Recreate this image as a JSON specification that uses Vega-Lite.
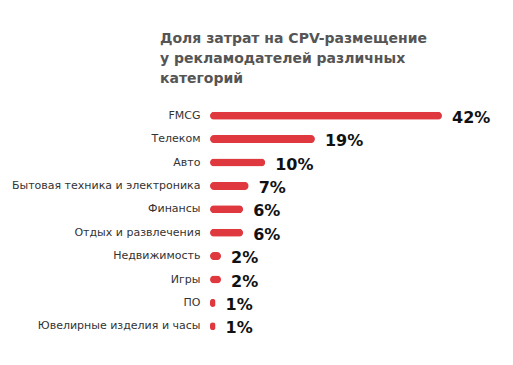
{
  "$schema": "https://vega.github.io/schema/vega-lite/v6.json",
  "autosize": {"type": "none"},
  "width": 232,
  "height": 234,
  "padding": {"left": 210, "top": 104, "right": 71, "bottom": 27},
  "background": "white",
  "title": {
    "text": ["Доля затрат на CPV-размещение", "у рекламодателей различных", "категорий"],
    "anchor": "start",
    "frame": "group",
    "dx": -50,
    "offset": 18,
    "font": "DejaVu Sans",
    "fontSize": 14,
    "fontWeight": "bold",
    "color": "#555555",
    "lineHeight": 20
  },
  "data": {
    "values": [
      {"category": "FMCG", "value": 0.42},
      {"category": "Телеком", "value": 0.19},
      {"category": "Авто", "value": 0.10},
      {"category": "Бытовая техника и электроника", "value": 0.07},
      {"category": "Финансы", "value": 0.06},
      {"category": "Отдых и развлечения", "value": 0.06},
      {"category": "Недвижимость", "value": 0.02},
      {"category": "Игры", "value": 0.02},
      {"category": "ПО", "value": 0.01},
      {"category": "Ювелирные изделия и часы", "value": 0.01}
    ]
  },
  "encoding": {
    "y": {
      "field": "category",
      "type": "nominal",
      "sort": null,
      "axis": {
        "title": null,
        "domain": false,
        "ticks": false,
        "labelFont": "DejaVu Sans",
        "labelFontSize": 11,
        "labelColor": "#333333",
        "labelPadding": 10,
        "labelLimit": 300
      }
    },
    "x": {
      "field": "value",
      "type": "quantitative",
      "scale": {"domain": [0, 0.42]},
      "axis": null
    }
  },
  "layer": [
    {
      "mark": {"type": "bar", "height": 8, "cornerRadius": 4, "color": "#e0383f"}
    },
    {
      "mark": {
        "type": "text",
        "align": "left",
        "baseline": "middle",
        "dx": 10,
        "dy": 2,
        "font": "DejaVu Sans",
        "fontSize": 16,
        "fontWeight": "bold",
        "color": "#111111"
      },
      "encoding": {
        "text": {"field": "value", "type": "quantitative", "format": ".0%"}
      }
    }
  ],
  "config": {"view": {"stroke": null}}
}
